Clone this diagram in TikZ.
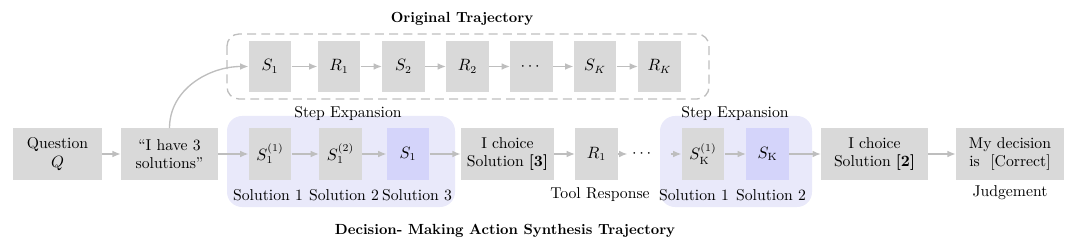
\documentclass[tikz,border=0pt]{standalone}
\usepackage{amsmath}
\usetikzlibrary{arrows.meta}

\definecolor{boxgray}{RGB}{217,217,217}
\definecolor{linegray}{RGB}{190,190,190}
\definecolor{regionblue}{RGB}{233,233,250}
\definecolor{pickblue}{RGB}{212,212,250}

\tikzset{
  block/.style={fill=boxgray, minimum height=1.2cm, inner sep=1pt, align=center},
  sblock/.style={block, minimum width=1.0cm},
  chosen/.style={sblock, fill=pickblue},
  link/.style={draw=linegray, line width=0.9pt, -{Latex[length=5.5pt, width=4.5pt]}},
  region/.style={fill=regionblue, rounded corners=10pt},
  trajframe/.style={draw=linegray, line width=0.9pt, dash pattern=on 6pt off 3.5pt, rounded corners=8pt},
  caption/.style={inner sep=1pt},
  heading/.style={caption, font=\fontsize{9.8}{12}\selectfont\bfseries},
}

\begin{document}
\begin{tikzpicture}[x=0.0235cm, y=-0.0235cm, font=\fontsize{10.5}{12.5}\selectfont]
  \useasboundingbox (0,0) rectangle (1080,248);
  % backgrounds
  \draw[trajframe] (227,34) rectangle (709,99);
  \fill[region] (227,116) rectangle (455,207);
  \fill[region] (660,116) rectangle (812,207);
  % original trajectory
  \node[heading] (toptitle) at (462,19) {Original Trajectory};
  \node[sblock] (ts1) at (270,66.5) {$S_1$};
  \node[sblock] (tr1) at (339,66.5) {$R_1$};
  \node[sblock] (ts2) at (403.5,66.5) {$S_2$};
  \node[sblock] (tr2) at (467.5,66.5) {$R_2$};
  \node[sblock] (tdots) at (531.5,66.5) {$\cdots$};
  \node[sblock] (tsk) at (595,66.5) {$S_K$};
  \node[sblock] (trk) at (659.5,66.5) {$R_K$};
  % synthesis trajectory
  \node[block, minimum width=2.09cm] (question) at (57.5,154) {Question\\$Q$};
  \node[block, minimum width=2.28cm] (plan) at (169.5,154) {``I have 3\\solutions''};
  \node[sblock] (sa) at (270,154) {$S_1^{(1)}$};
  \node[sblock] (sb) at (340.5,154) {$S_1^{(2)}$};
  \node[chosen] (sc) at (408,154) {$S_1$};
  \node[block, minimum width=2.19cm] (pick1) at (507.5,154) {I choice\\Solution \textbf{[3]}};
  \node[sblock] (resp) at (596.5,154) {$R_1$};
  \node[inner sep=3pt] (bdots) at (643,154) {$\cdots$};
  \node[sblock] (ska) at (703,154) {$S_{\mathrm{K}}^{(1)}$};
  \node[chosen] (skb) at (767.5,154) {$S_{\mathrm{K}}$};
  \node[block, minimum width=2.51cm] (pick2) at (874.5,154) {I choice\\Solution \textbf{[2]}};
  \node[block, minimum width=2.54cm] (verdict) at (1010,154) {My decision\\is\ \ [Correct]};
  % labels
  \node[caption] (expand1) at (348,113) {Step Expansion};
  \node[caption] (expand2) at (735,113) {Step Expansion};
  \node[caption] (sol1) at (268,195) {Solution 1};
  \node[caption] (sol2) at (344,195) {Solution 2};
  \node[caption] (sol3) at (417,195) {Solution 3};
  \node[caption] (toolresp) at (600,195) {Tool Response};
  \node[caption] (solk1) at (694,195) {Solution 1};
  \node[caption] (solk2) at (771,195) {Solution 2};
  \node[caption] (judge) at (1010,193) {Judgement};
  \node[heading] (bottitle) at (505,231) {Decision- Making Action Synthesis Trajectory};
  % connectors
  \draw[link] (ts1) -- (tr1);
  \draw[link] (tr1) -- (ts2);
  \draw[link] (ts2) -- (tr2);
  \draw[link] (tr2) -- (tdots);
  \draw[link] (tdots) -- (tsk);
  \draw[link] (tsk) -- (trk);
  \draw[link] (question) -- (plan);
  \draw[link] (plan.north) to[out=90, in=180] (ts1.west);
  \draw[link] (plan) -- (sa);
  \draw[link] (sa) -- (sb);
  \draw[link] (sb) -- (sc);
  \draw[link] (sc) -- (pick1);
  \draw[link] (pick1) -- (resp);
  \draw[link] (resp) -- (bdots);
  \draw[link] ([xshift=8pt]bdots.east) -- (ska);
  \draw[link] (ska) -- (skb);
  \draw[link] (skb) -- (pick2);
  \draw[link] (pick2) -- (verdict);
\end{tikzpicture}
\end{document}
